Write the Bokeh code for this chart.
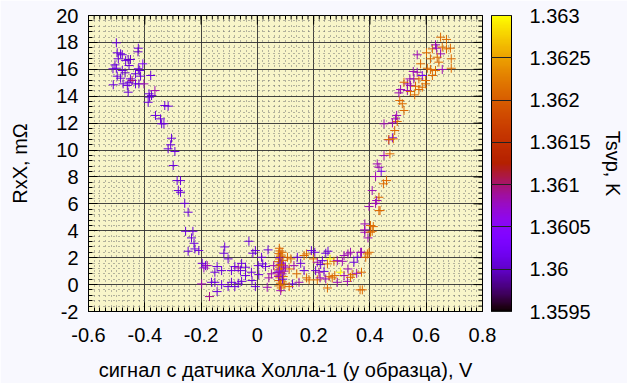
import numpy as np
from bokeh.plotting import figure
from bokeh.models import (ColumnDataSource, LinearColorMapper, ColorBar, FixedTicker,
                          CustomJSTickFormatter, LinearAxis, Range1d)
from bokeh.embed import file_html
from bokeh.resources import INLINE

# ---------------- data ----------------
# Hall sensor signal (V), resistance RxX (mOhm), temperature Tsvp (K)
left_x = [-0.501, -0.423, -0.424, -0.498, -0.486, -0.480, -0.459, -0.451, -0.468, -0.494,
          -0.456, -0.506, -0.513, -0.501, -0.480, -0.470, -0.423, -0.418, -0.407, -0.433,
          -0.415, -0.379, -0.498, -0.486, -0.451, -0.445, -0.456, -0.477, -0.462, -0.433,
          -0.421, -0.403, -0.512, -0.459, -0.385, -0.376, -0.383, -0.364, -0.388, -0.329,
          -0.317, -0.362, -0.344, -0.340, -0.332, -0.305, -0.308, -0.317, -0.293, -0.299,
          -0.285, -0.273, -0.281, -0.273, -0.258, -0.246, -0.255, -0.229, -0.234, -0.225,
          -0.246, -0.222, -0.208]
left_y = [17.97, 17.57, 17.30, 17.23, 17.15, 17.08, 16.73, 16.73, 16.65, 16.78,
          16.28, 16.33, 16.04, 16.08, 15.91, 15.74, 16.04, 15.91, 16.41, 15.67,
          15.49, 15.54, 15.49, 15.34, 15.29, 15.17, 15.04, 14.92, 14.80, 14.92,
          14.92, 14.92, 14.85, 14.30, 14.18, 14.05, 13.93, 14.42, 13.55, 13.31,
          13.26, 12.57, 12.32, 11.95, 11.95, 10.88, 10.39, 10.09, 9.89, 8.85,
          7.73, 7.73, 6.99, 6.86, 6.04, 5.38, 3.96, 3.96, 3.47, 3.07,
          2.48, 2.65, 2.53]
left_t = [1.3601, 1.3601, 1.3600, 1.3601, 1.3601, 1.3601, 1.3601, 1.3600, 1.3601, 1.3601,
          1.3601, 1.3601, 1.3601, 1.3601, 1.3601, 1.3600, 1.3601, 1.3601, 1.3604, 1.3601,
          1.3601, 1.3601, 1.3601, 1.3601, 1.3601, 1.3610, 1.3601, 1.3601, 1.3601, 1.3601,
          1.3601, 1.3608, 1.3601, 1.3601, 1.3601, 1.3601, 1.3601, 1.3608, 1.3601, 1.3601,
          1.3601, 1.3601, 1.3601, 1.3601, 1.3601, 1.3601, 1.3601, 1.3601, 1.3601, 1.3601,
          1.3601, 1.3601, 1.3601, 1.3601, 1.3601, 1.3601, 1.3601, 1.3601, 1.3601, 1.3601,
          1.3601, 1.3601, 1.3601]

valley_x = [-0.196, -0.184, -0.178, -0.190, -0.198, -0.170, -0.163, -0.151, -0.143, -0.143,
            -0.151, -0.127, -0.127, -0.104, -0.080, -0.092, -0.080, -0.068, -0.056, -0.060,
            -0.042, -0.092, -0.068, -0.056, -0.042, -0.030, -0.116, -0.119, -0.104, -0.021,
            -0.019, -0.016, -0.007, -0.007, 0.005, 0.003, 0.015, 0.019, 0.038, 0.029,
            0.041, 0.035, 0.050, 0.058]
valley_y = [1.58, 1.41, 1.41, 1.24, 0.05, -0.89, 0.17, 0.17, -0.52, 1.34,
            0.92, 1.04, 0.00, -0.15, -0.15, 1.04, 1.34, 1.24, 1.58, 1.04,
            1.29, 0.17, 0.10, 0.24, 0.67, 3.22, 2.80, 2.33, 1.91, 0.92,
            0.30, 2.33, 2.53, -0.15, 0.74, 1.41, 2.03, 1.54, 2.58, 1.34,
            0.50, -0.20, 0.80, 1.41]
valley_t = [1.3601, 1.3601, 1.3608, 1.3607, 1.3608, 1.3609, 1.3601, 1.3601, 1.3601, 1.3601,
            1.3601, 1.3601, 1.3601, 1.3601, 1.3601, 1.3601, 1.3601, 1.3608, 1.3601, 1.3601,
            1.3601, 1.3601, 1.3601, 1.3601, 1.3601, 1.3601, 1.3601, 1.3601, 1.3601, 1.3601,
            1.3601, 1.3601, 1.3601, 1.3601, 1.3601, 1.3601, 1.3601, 1.3601, 1.3601, 1.3601,
            1.3608, 1.3608, 1.3608, 1.3608]

cluster_x = [0.078, 0.080, 0.076, 0.082, 0.078, 0.075, 0.081, 0.079, 0.076, 0.083,
             0.078, 0.080, 0.077, 0.082, 0.079, 0.088, 0.090, 0.087, 0.092, 0.089,
             0.085, 0.095, 0.080, 0.085, 0.078, 0.088, 0.083, 0.093, 0.095, 0.070,
             0.090, 0.075, 0.084, 0.086]
cluster_y = [2.70, 2.50, 2.30, 2.10, 1.90, 1.70, 1.50, 1.30, 1.10, 0.90,
             0.70, 0.50, 0.30, 0.10, -0.10, 2.40, 1.80, 1.20, 0.60, 0.20,
             -0.25, 0.05, 2.00, 1.60, 1.00, 0.80, -0.45, 1.40, 1.00, 0.90,
             0.40, 0.60, 2.20, 1.45]
cluster_t = [1.3621, 1.3620, 1.3621, 1.3622, 1.3621, 1.3620, 1.3621, 1.3621, 1.3620, 1.3621,
             1.3622, 1.3621, 1.3620, 1.3621, 1.3621, 1.3621, 1.3620, 1.3621, 1.3621, 1.3622,
             1.3621, 1.3620, 1.3601, 1.3602, 1.3604, 1.3608, 1.3608, 1.3608, 1.3608, 1.3608,
             1.3601, 1.3608, 1.3621, 1.3620]

middle_x = [0.107, 0.119, 0.142, 0.166, 0.175, 0.192, 0.204, 0.243, 0.251, 0.199,
            0.154, 0.130, 0.113, 0.100, 0.166, 0.140, 0.175, 0.184, 0.148, 0.125,
            0.113, 0.213, 0.225, 0.231, 0.249, 0.258, 0.272, 0.284, 0.302, 0.308,
            0.322, 0.331, 0.355, 0.343, 0.367, 0.207, 0.219, 0.237, 0.255, 0.275,
            0.296, 0.308, 0.322, 0.337, 0.353, 0.370, 0.213, 0.243, 0.266, 0.284,
            0.320, 0.331, 0.249, 0.365, 0.373, 0.223]
middle_y = [2.03, 1.91, 2.03, 2.16, 2.28, 2.53, 2.40, 2.33, 2.48, 1.91,
            1.58, 1.41, 1.16, 1.30, 1.04, 0.80, 0.50, 0.35, 0.17, 0.05,
            -0.15, 1.66, 1.49, 1.78, 1.54, 1.91, 1.73, 1.78, 1.73, 2.16,
            2.28, 2.40, 2.03, 1.66, 2.40, 1.04, 0.92, 0.98, 0.59, 0.67,
            0.92, 0.67, 1.16, 0.74, 0.84, 0.92, 0.35, 0.42, 0.50, 0.17,
            0.24, 0.54, -0.25, -0.39, -0.39, 0.50]
middle_t = [1.3621, 1.3621, 1.3601, 1.3621, 1.3621, 1.3601, 1.3601, 1.3601, 1.3601, 1.3621,
            1.3601, 1.3608, 1.3621, 1.3608, 1.3601, 1.3621, 1.3621, 1.3621, 1.3608, 1.3601,
            1.3621, 1.3608, 1.3601, 1.3601, 1.3621, 1.3630, 1.3621, 1.3608, 1.3608, 1.3608,
            1.3608, 1.3608, 1.3601, 1.3601, 1.3608, 1.3601, 1.3608, 1.3601, 1.3621, 1.3621,
            1.3630, 1.3608, 1.3608, 1.3621, 1.3608, 1.3621, 1.3621, 1.3608, 1.3621, 1.3608,
            1.3608, 1.3621, 1.3621, 1.3621, 1.3621, 1.3608]

right_x = [0.370, 0.391, 0.397, 0.385, 0.393, 0.382, 0.402, 0.382, 0.402, 0.412,
           0.397, 0.420, 0.432, 0.381, 0.408, 0.408, 0.432, 0.424, 0.436, 0.448,
           0.459, 0.420, 0.440, 0.426, 0.432, 0.450, 0.471, 0.467, 0.480, 0.488,
           0.467, 0.483, 0.450, 0.480, 0.497, 0.495, 0.491, 0.506, 0.515, 0.521,
           0.509, 0.533, 0.544, 0.503, 0.574, 0.559, 0.533, 0.544, 0.562, 0.521,
           0.586, 0.542, 0.556, 0.574, 0.598, 0.598, 0.554, 0.568, 0.586, 0.622,
           0.604, 0.615, 0.633, 0.657, 0.689, 0.580, 0.645, 0.651, 0.615, 0.639,
           0.689, 0.601, 0.568, 0.622, 0.637, 0.672, 0.686, 0.633, 0.657, 0.651,
           0.672]
right_y = [2.40, 2.28, 2.40, 2.03, 3.47, 3.89, 3.89, 4.51, 4.39, 4.31,
           5.80, 6.04, 5.50, 4.07, 3.96, 6.99, 6.49, 6.25, 5.50, 7.49,
           7.73, 8.03, 8.42, 8.97, 8.72, 9.59, 9.72, 10.76, 10.91, 11.45,
           10.78, 10.83, 11.95, 12.02, 12.12, 12.57, 12.32, 13.68, 13.44, 12.94,
           14.50, 14.42, 14.35, 14.25, 14.50, 14.10, 14.92, 14.80, 14.74, 15.04,
           14.67, 15.29, 15.29, 15.29, 15.17, 14.92, 15.84, 15.78, 15.54, 15.54,
           16.08, 15.99, 15.91, 15.99, 16.08, 16.41, 16.53, 17.15, 16.78, 16.90,
           16.78, 17.23, 17.08, 17.52, 17.57, 17.52, 17.57, 17.82, 17.65, 18.39,
           18.22]
right_t = [1.3608, 1.3621, 1.3621, 1.3621, 1.3608, 1.3608, 1.3621, 1.3608, 1.3621, 1.3621,
           1.3608, 1.3608, 1.3621, 1.3608, 1.3621, 1.3608, 1.3621, 1.3608, 1.3621, 1.3621,
           1.3621, 1.3608, 1.3602, 1.3608, 1.3608, 1.3608, 1.3621, 1.3608, 1.3602, 1.3621,
           1.3621, 1.3621, 1.3608, 1.3608, 1.3621, 1.3608, 1.3608, 1.3621, 1.3621, 1.3621,
           1.3608, 1.3608, 1.3621, 1.3608, 1.3621, 1.3621, 1.3608, 1.3608, 1.3621, 1.3621,
           1.3621, 1.3608, 1.3608, 1.3621, 1.3621, 1.3621, 1.3608, 1.3608, 1.3602, 1.3621,
           1.3621, 1.3621, 1.3621, 1.3608, 1.3621, 1.3621, 1.3621, 1.3608, 1.3621, 1.3621,
           1.3621, 1.3621, 1.3608, 1.3621, 1.3608, 1.3621, 1.3621, 1.3608, 1.3621, 1.3621,
           1.3621]

x_ticks = [-0.6, -0.4, -0.2, 0.0, 0.2, 0.4, 0.6, 0.8]
y_ticks = [-2, 0, 2, 4, 6, 8, 10, 12, 14, 16, 18, 20]
cb_ticks = [1.3595, 1.36, 1.3605, 1.361, 1.3615, 1.362, 1.3625, 1.363]
x_label = "сигнал с датчика Холла-1 (у образца), V"
y_label = "RxX, mΩ"
cb_label = "Tsvp, K"

# ---------------- styling / layout ----------------
FONT = "Liberation Sans"
FS = "20px"
PAGE_BG = "#f8f8fe"
PLOT_BG = "#f8f5c9"
W, H = 627, 383
B_LEFT, B_RIGHT, B_TOP, B_BOTTOM = 88, 145, 15, 72
FRAME_W = W - B_LEFT - B_RIGHT
FRAME_H = H - B_TOP - B_BOTTOM

# gnuplot default palette (rgbformulae 7,5,15)
_t = np.linspace(0, 1, 256)
_r = np.sqrt(_t)
_g = _t ** 3
_b = np.clip(np.sin(2 * np.pi * _t), 0, 1)
palette = ["#%02x%02x%02x" % (int(round(r * 255)), int(round(g * 255)), int(round(b * 255)))
           for r, g, b in zip(_r, _g, _b)]

mapper = LinearColorMapper(palette=palette, low=cb_ticks[0], high=cb_ticks[-1])

src = ColumnDataSource(dict(
    x=left_x + valley_x + cluster_x + middle_x + right_x,
    y=left_y + valley_y + cluster_y + middle_y + right_y,
    t=left_t + valley_t + cluster_t + middle_t + right_t,
))

p = figure(width=W, height=H,
           x_range=Range1d(x_ticks[0], x_ticks[-1]),
           y_range=Range1d(y_ticks[0], y_ticks[-1]),
           output_backend="svg", toolbar_location=None,
           min_border_left=B_LEFT, min_border_right=B_RIGHT,
           min_border_top=B_TOP, min_border_bottom=B_BOTTOM,
           background_fill_color=PLOT_BG, border_fill_color=PAGE_BG)
p.outline_line_color = "black"
p.outline_line_width = 1

x_minor = [round(v, 3) for v in np.arange(x_ticks[0], x_ticks[-1] + 1e-9, 0.02)]
y_minor = [round(v, 2) for v in np.arange(y_ticks[0], y_ticks[-1] + 1e-9, 0.4)]
xt = FixedTicker(ticks=x_ticks, minor_ticks=x_minor)
yt = FixedTicker(ticks=y_ticks, minor_ticks=y_minor)
fmt = CustomJSTickFormatter(code="return (Math.round(tick*10000)/10000).toString();")

for g, t in ((p.xgrid, xt), (p.ygrid, yt)):
    g.ticker = t
    g.grid_line_color = "#333333"
    g.grid_line_width = 1
    g.grid_line_alpha = 0.9
    g.minor_grid_line_color = "#707070"
    g.minor_grid_line_dash = "1 4"
    g.minor_grid_line_width = 1

# mirrored inward ticks on the top and right frame edges (half of each dash is clipped)
p.scatter(x=x_ticks, y=[y_ticks[-1]] * len(x_ticks), marker="dash", angle=np.pi / 2,
          size=18, line_color="black", line_width=1)
p.scatter(x=x_minor, y=[y_ticks[-1]] * len(x_minor), marker="dash", angle=np.pi / 2,
          size=8, line_color="black", line_width=1)
p.scatter(x=[x_ticks[-1]] * len(y_ticks), y=y_ticks, marker="dash",
          size=18, line_color="black", line_width=1)
p.scatter(x=[x_ticks[-1]] * len(y_minor), y=y_minor, marker="dash",
          size=8, line_color="black", line_width=1)

p.scatter(x="x", y="y", source=src, marker="cross", size=9, line_width=1,
          line_color={"field": "t", "transform": mapper})


def style_axis(ax):
    ax.axis_line_color = "black"
    ax.major_tick_in = 9
    ax.major_tick_out = 0
    ax.minor_tick_in = 4
    ax.minor_tick_out = 0
    ax.major_tick_line_color = "black"
    ax.minor_tick_line_color = "black"
    ax.major_label_text_font = FONT
    ax.major_label_text_font_size = FS
    ax.major_label_text_color = "black"
    ax.axis_label_text_font = FONT
    ax.axis_label_text_font_size = FS
    ax.axis_label_text_font_style = "normal"
    ax.axis_label_text_color = "black"


p.xaxis.ticker = xt
p.yaxis.ticker = yt
p.xaxis.formatter = fmt
p.yaxis.formatter = fmt
style_axis(p.xaxis[0])
style_axis(p.yaxis[0])
p.xaxis.axis_label = x_label
p.yaxis.axis_label = y_label
p.xaxis.major_label_standoff = 16
p.yaxis.major_label_standoff = 10
p.xaxis.axis_label_standoff = 14
p.yaxis.axis_label_standoff = 22

# colour bar placed just right of the frame (9 px gap)
cbar = ColorBar(color_mapper=mapper, ticker=FixedTicker(ticks=cb_ticks), formatter=fmt,
                width=20, height=FRAME_H, padding=0, margin=0, label_standoff=18,
                location=(FRAME_W + 9, 0),
                major_tick_in=20, major_tick_out=0, major_tick_line_color="#222222",
                minor_tick_line_color=None,
                bar_line_color="black", border_line_color=None,
                background_fill_alpha=0,
                major_label_text_font=FONT, major_label_text_font_size=FS,
                major_label_text_color="black")
p.add_layout(cbar, "center")

lab_ax = LinearAxis(ticker=FixedTicker(ticks=[]), axis_label=cb_label)
style_axis(lab_ax)
lab_ax.axis_line_color = None
lab_ax.major_tick_line_color = None
lab_ax.minor_tick_line_color = None
lab_ax.major_tick_in = 0
lab_ax.major_tick_out = 0
lab_ax.major_label_standoff = 0
lab_ax.axis_label_standoff = 119
p.add_layout(lab_ax, "right")

open("out.html", "w").write(file_html(p, INLINE))
